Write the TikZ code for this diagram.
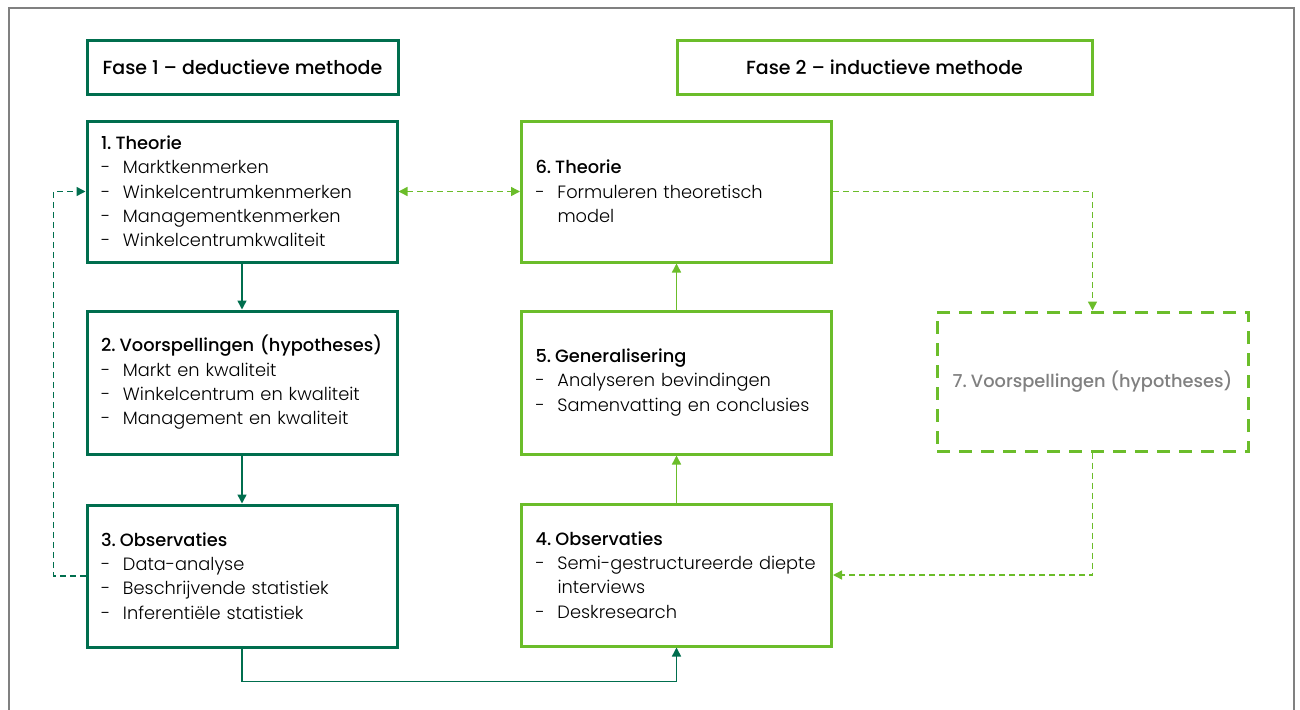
\documentclass[tikz,border=0pt]{standalone}
\usepackage{fontspec}
\setmainfont{Poppins}[UprightFont=* Light, BoldFont=* Medium]
\usetikzlibrary{arrows.meta}
\definecolor{darkg}{RGB}{0,110,78}
\definecolor{lightg}{RGB}{107,189,42}
\definecolor{framegray}{RGB}{128,128,128}
\definecolor{txtgray}{RGB}{128,128,128}
\newcommand\bl[1]{\makebox[22pt][l]{-}#1}
\newcommand\ttl[2]{\mbox{\textbf{#1.\hspace{4pt}#2}}}
\hbadness=10000 \hfuzz=100pt
\begin{document}
\begin{tikzpicture}[x=1pt,y=-1pt,
  >={Triangle[length=9pt,width=9pt]},
  base/.style={rectangle, line width=3pt, fill=white, font=\fontsize{17.8}{24.3}\selectfont},
  dbox/.style={base, draw=darkg, text width=282pt, inner xsep=14pt, inner ysep=0pt, align=left},
  lbox/.style={base, draw=lightg, text width=282pt, inner xsep=14pt, inner ysep=0pt, align=left},
  hdr/.style={base, inner sep=0pt, align=center, minimum height=53pt, font=\fontsize{19}{24}\selectfont},
  conn/.style={line width=1.5pt, ->},
  dconn/.style={conn, draw=darkg},
  lconn/.style={conn, draw=lightg},
  dsh/.style={dash pattern=on 6pt off 4pt}]
\useasboundingbox (0,0) rectangle (1300,709);
\clip (0,0) rectangle (1300,709);
\draw[framegray, line width=2pt] (9,8) rectangle (1294,740);

% headers
\node[hdr, draw=darkg, minimum width=311pt] (h1) at (242.5,67.5) {\textbf{Fase 1 -- deductieve methode}};
\node[hdr, draw=lightg, minimum width=415pt] (h2) at (884.5,67.5) {\textbf{Fase 2 -- inductieve methode}};

% phase 1
\node[dbox, minimum height=141pt] (b1) at (242,191.5) {\ttl{1}{Theorie}\\
  \bl{Marktkenmerken}\\ \bl{Winkelcentrumkenmerken}\\ \bl{Managementkenmerken}\\ \bl{Winkelcentrumkwaliteit}};
\node[dbox, minimum height=143pt] (b2) at (242,382.5) {\ttl{2}{Voorspellingen (hypotheses)}\\
  \bl{Markt en kwaliteit}\\ \bl{Winkelcentrum en kwaliteit}\\ \bl{Management en kwaliteit}};
\node[dbox, minimum height=142pt] (b3) at (242,576) {\ttl{3}{Observaties}\\
  \bl{Data-analyse}\\ \bl{Beschrijvende statistiek}\\ \bl{Inferentiële statistiek}};

% phase 2
\node[lbox, minimum height=141pt] (b6) at (676.5,191.5) {\ttl{6}{Theorie}\\
  \bl{Formuleren theoretisch}\\ \hspace*{22pt}model};
\node[lbox, minimum height=143pt] (b5) at (676.5,382.5) {\ttl{5}{Generalisering}\\
  \bl{Analyseren bevindingen}\\ \bl{Samenvatting en conclusies}};
\node[lbox, minimum height=142pt] (b4) at (676.5,575) {\ttl{4}{Observaties}\\
  \bl{Semi-gestructureerde diepte}\\ \hspace*{22pt}interviews\\ \bl{Deskresearch}};
\node[base, draw=lightg, dash pattern=on 13pt off 9pt, minimum width=311pt, minimum height=139pt,
  text=txtgray, align=center] (b7) at (1092.5,381.5) {\ttl{7}{Voorspellingen (hypotheses)}};

% connectors
\draw[dconn] (b1) -- (b2);
\draw[dconn] (b2) -- (b3);
\draw[dconn, dsh] (b3.west) -- ++(-32,0) |- (b1.west);
\draw[lconn, dsh, <->] (b1.east) -- (b6.west);
\draw[lconn, dsh] (b6.east) -| (b7.north);
\draw[lconn, dsh] (b7.south) |- (b4.east);
\draw[lconn] (b4) -- (b5);
\draw[lconn] (b5) -- (b6);
\draw[dconn] (b3.south) -- ++(0,33) -| (b4.south);
\end{tikzpicture}
\end{document}
